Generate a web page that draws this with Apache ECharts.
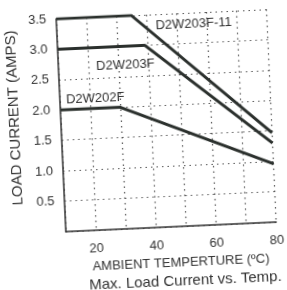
<!DOCTYPE html>
<html><head><meta charset="utf-8">
<script src="https://cdn.jsdelivr.net/npm/echarts@6/dist/echarts.min.js"></script>
<style>
html,body{margin:0;padding:0;background:#fff;overflow:hidden;}
#c{width:287px;height:290px;transform:rotate(-2.6deg);transform-origin:143.5px 145px;}
</style></head>
<body><div id="c"></div>
<script>
const seriesNames = ['D2W203F-11','D2W203F','D2W202F'];
const d2w203f11 = [[10,3.5],[35,3.5],[80,1.47]];
const d2w203f = [[10,3.0],[39,3.0],[80,1.30]];
const d2w202f = [[10,2.0],[30,2.0],[80,0.96]];
const labelPos = [[55.6,3.32],[32.3,2.68],[21.8,2.17]];
const xTickLabels = [20,40,60,80];
const yTickLabels = [0.5,1.0,1.5,2.0,2.5,3.0,3.5];

const font = 'Liberation Sans, Arial, sans-serif';
const dataSets = [d2w203f11, d2w203f, d2w202f];
const chart = echarts.init(document.getElementById('c'), null, {renderer:'canvas'});
chart.setOption({
  backgroundColor:'#fff',
  animation:false,
  title:{text:'Max. Load Current vs. Temp.', left:78, top:270,
    textStyle:{fontFamily:font,fontSize:15,fontWeight:'normal',color:'#333'}},
  grid:{left:58,right:14.5,top:15,bottom:62},
  xAxis:{type:'value',min:10,max:80,interval:10,
    name:'AMBIENT TEMPERTURE (ºC)',nameLocation:'middle',nameGap:29,
    nameTextStyle:{fontFamily:font,fontSize:13,color:'#333',padding:[0,0,0,17]},
    axisLine:{lineStyle:{color:'#333',width:1.5}},
    axisTick:{show:false},
    axisLabel:{fontFamily:font,fontSize:13,color:'#333',margin:12,
      formatter:v=>xTickLabels.includes(v)?String(v):''},
    splitLine:{show:true,lineStyle:{type:[1.5,4],color:'#555',width:1.2}}},
  yAxis:{type:'value',min:0,max:3.5,interval:0.5,
    name:'LOAD CURRENT (AMPS)',nameLocation:'middle',nameGap:36,
    nameTextStyle:{fontFamily:font,fontSize:15,color:'#333',padding:[0,0,0,19]},
    axisLine:{show:true,lineStyle:{color:'#333',width:1.5}},
    axisTick:{show:false},
    axisLabel:{fontFamily:font,fontSize:13,color:'#333',margin:10,
      formatter:v=>yTickLabels.some(t=>Math.abs(t-v)<1e-6)?v.toFixed(1):''},
    splitLine:{show:true,lineStyle:{type:[1.5,4],color:'#555',width:1.2}}},
  series: seriesNames.map((n,i)=>({
    name:n,type:'line',data:dataSets[i],symbol:'none',
    lineStyle:{color:'#2b302d',width:3},
    markPoint:{symbol:'circle',symbolSize:1,itemStyle:{color:'rgba(0,0,0,0)'},
      label:{show:true,position:'inside',formatter:n,fontFamily:font,fontSize:13,color:'#333'},
      data:[{coord:labelPos[i]}]}
  }))
});
</script></body></html>
